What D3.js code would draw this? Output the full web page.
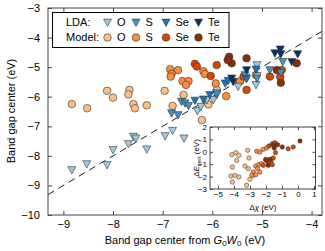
<!DOCTYPE html>
<html><head><meta charset="utf-8">
<script src="https://cdn.jsdelivr.net/npm/d3@7"></script>
<style>
body{margin:0;background:#fff}
text{font-family:"Liberation Sans",Arial,sans-serif;fill:#000}
</style>
</head><body><script>
const species = ["O", "S", "Se", "Te"];
const xTicks = [-9, -8, -7, -6, -5, -4];
const yTicks = [-10, -9, -8, -7, -6, -5, -4, -3];
const insetXTicks = [-5, -4, -3, -2, -1, 0, 1];
const insetYTicks = [-3, -2, -1, 0, 1, 2];

// [G0W0 center, predicted center] in eV
const ldaO = [[-8.83,-8.48],[-8.53,-8.28],[-8.12,-8.31],[-8.00,-7.80],[-7.69,-7.60],[-7.59,-7.35],[-7.54,-7.41],[-7.32,-7.78],[-6.95,-7.33],[-6.80,-7.15],[-6.57,-7.41],[-6.30,-6.48],[-6.23,-6.34],[-6.11,-6.11],[-5.98,-6.11],[-5.91,-5.94],[-5.48,-5.66],[-5.10,-4.93],[-5.10,-5.30],[-5.12,-5.60]];
const ldaS = [[-6.82,-6.56],[-6.69,-6.62],[-6.62,-6.17],[-6.55,-6.22],[-6.48,-6.31],[-5.91,-5.88],[-5.34,-5.27],[-5.10,-5.38],[-4.84,-5.10],[-4.58,-4.82],[-4.62,-5.19]];
const ldaSe = [[-6.35,-6.13],[-6.18,-6.09],[-6.05,-5.94],[-5.74,-5.55],[-5.68,-5.46],[-5.31,-5.40],[-5.12,-5.08]];
const ldaTe = [[-5.61,-5.38],[-5.58,-5.49],[-5.31,-5.10],[-4.74,-4.53],[-4.63,-4.40],[-4.62,-4.56],[-4.40,-4.82],[-4.28,-4.56]];
const modelO = [[-8.83,-6.25],[-8.52,-6.39],[-8.12,-5.80],[-8.00,-6.03],[-7.67,-5.77],[-7.69,-5.92],[-7.59,-6.25],[-7.56,-6.39],[-7.32,-6.29],[-6.96,-5.80],[-6.80,-6.31],[-6.58,-5.94],[-6.21,-6.79],[-6.08,-6.26],[-5.91,-5.77]];
const modelS = [[-6.85,-5.07],[-6.82,-5.23],[-6.84,-5.32],[-6.69,-5.10],[-6.60,-5.47],[-6.48,-5.47],[-6.53,-5.60],[-6.18,-5.14],[-6.15,-5.23],[-5.93,-5.55],[-5.72,-5.98],[-5.44,-5.48],[-5.12,-5.27]];
const modelSe = [[-6.35,-4.89],[-6.31,-4.98],[-5.91,-4.93],[-6.03,-5.30],[-5.37,-5.32],[-5.31,-5.77],[-4.84,-5.32],[-4.60,-5.10],[-4.63,-5.33]];
const modelTe = [[-5.66,-4.65],[-5.61,-4.87],[-5.69,-4.76],[-5.31,-4.70],[-4.70,-5.10],[-4.62,-5.53],[-4.30,-4.87]];

// inset: [delta chi, delta E_cen] in eV
const insetO = [[-4.14,-0.23],[-3.89,-0.07],[-3.69,-0.28],[-3.83,-0.69],[-4.10,-1.23],[-4.19,-1.95],[-3.94,-1.90],[-3.69,-2.03],[-4.10,-2.44],[-3.14,0.12],[-3.06,-0.50],[-3.31,-1.15],[-3.10,-1.36],[-3.21,-2.70],[-3.00,-2.22],[-2.79,-1.90]];
const insetS = [[-2.64,-1.15],[-2.52,-1.36],[-2.79,-1.63],[-2.44,-1.01],[-2.27,-0.96],[-2.58,0.04],[-2.38,-0.02],[-2.17,0.20],[-1.96,0.31],[-2.63,-1.85],[-2.38,-1.63],[-2.89,-1.90]];
const insetSe = [[-2.02,-0.60],[-1.86,-0.88],[-1.69,-0.77],[-1.54,-0.50],[-1.60,-1.04],[-1.81,0.47],[-1.60,0.65],[-1.44,0.73],[-1.40,-0.07],[-0.61,0.25],[-0.29,0.39],[-2.17,-1.09]];
const insetTe = [[-0.98,0.39],[0.13,0.87],[-2.00,-0.69],[-1.75,-0.60],[-1.86,-1.09],[-1.48,0.31],[-1.27,0.57],[-1.54,0.52]];

const ldaColors = ["#9ecae1", "#4292c6", "#2171b5", "#08306b"];
const modelColors = ["#fdbe85", "#fd8d3c", "#d94801", "#8c2d04"];
const frameColor = "#444";
const fmt = d3.format("d");

const W = 325, H = 251;
const svg = d3.select("body").append("svg").attr("width", W).attr("height", H);

const x = d3.scaleLinear().domain([-9.31, -3.79]).range([48, 322]);
const y = d3.scaleLinear().domain([-10, -3]).range([215, 8]);

const tri = s => `M${-s},${-s*0.85}L${s},${-s*0.85}L0,${s}Z`;

function styleAxis(g, size) {
    g.select(".domain").remove();
    g.selectAll("line").attr("stroke", frameColor);
    g.selectAll("text").attr("font-size", size).attr("font-family", '"Liberation Sans",Arial,sans-serif').attr("fill", "#000");
}

// main axes
svg.append("g").attr("transform", `translate(0,${y(-10)})`)
    .call(d3.axisBottom(x).tickValues(xTicks).tickFormat(fmt).tickSizeInner(-4).tickSizeOuter(0).tickPadding(5))
    .call(g => styleAxis(g, 11));
svg.append("g").attr("transform", `translate(0,${y(-3)})`)
    .call(d3.axisTop(x).tickValues(xTicks).tickSizeInner(-4).tickSizeOuter(0).tickFormat(""))
    .call(g => styleAxis(g, 11));
svg.append("g").attr("transform", `translate(${x.range()[0]},0)`)
    .call(d3.axisLeft(y).tickValues(yTicks).tickFormat(fmt).tickSizeInner(-4).tickSizeOuter(0).tickPadding(8))
    .call(g => styleAxis(g, 11));
svg.append("g").attr("transform", `translate(${x.range()[1]},0)`)
    .call(d3.axisRight(y).tickValues(yTicks).tickSizeInner(-4).tickSizeOuter(0).tickFormat(""))
    .call(g => styleAxis(g, 11));

svg.append("clipPath").attr("id", "clip").append("rect")
    .attr("x", 48).attr("y", 8).attr("width", 274).attr("height", 207);

// y = x guide
svg.append("line")
    .attr("clip-path", "url(#clip)")
    .attr("x1", x(-9.31)).attr("y1", y(-9.31))
    .attr("x2", x(-3.79)).attr("y2", y(-3.79))
    .attr("stroke", "#000").attr("stroke-width", 0.9)
    .attr("stroke-dasharray", "7,5");

const modelSeries = [modelO, modelS, modelSe, modelTe];
const ldaSeries = [ldaO, ldaS, ldaSe, ldaTe];

modelSeries.forEach((data, i) => {
    svg.append("g").selectAll("circle").data(data).join("circle")
        .attr("cx", d => x(d[0])).attr("cy", d => y(d[1])).attr("r", 3.8)
        .attr("fill", modelColors[i]).attr("stroke", "#333").attr("stroke-width", 0.6);
});
ldaSeries.forEach((data, i) => {
    svg.append("g").selectAll("path").data(data).join("path")
        .attr("d", tri(4))
        .attr("transform", d => `translate(${x(d[0])},${y(d[1])})`)
        .attr("fill", ldaColors[i]).attr("stroke", "#333").attr("stroke-width", 0.6);
});

svg.append("rect").attr("x", 48).attr("y", 8).attr("width", 274).attr("height", 207)
    .attr("fill", "none").attr("stroke", frameColor).attr("stroke-width", 1);

// axis titles
svg.append("text").attr("x", 185).attr("y", 244).attr("text-anchor", "middle").attr("font-size", 11)
    .html('Band gap center from <tspan font-style="italic">G</tspan><tspan font-size="8" dy="2">0</tspan><tspan font-style="italic" dy="-2">W</tspan><tspan font-size="8" dy="2">0</tspan><tspan dy="-2"> (eV)</tspan>');
svg.append("text").attr("transform", "translate(15,111) rotate(-90)").attr("text-anchor", "middle")
    .attr("font-size", 11).text("Band gap center (eV)");

// legend
const leg = svg.append("g");
leg.append("rect").attr("x", 52.5).attr("y", 12.5).attr("width", 176.5).attr("height", 35)
    .attr("fill", "#fff").attr("stroke", "#000").attr("stroke-width", 1);
const legX = [107.5, 136, 166, 198.5];
[["LDA:", 22.5, "lda"], ["Model:", 37.5, "model"]].forEach(([lab, ly, kind]) => {
    leg.append("text").attr("x", 66).attr("y", ly).attr("dy", "0.36em").attr("font-size", 11).text(lab);
    species.forEach((s, i) => {
        if (kind === "lda") {
            leg.append("path").attr("d", tri(4)).attr("transform", `translate(${legX[i]},${ly})`)
                .attr("fill", ldaColors[i]).attr("stroke", "#333").attr("stroke-width", 0.6);
        } else {
            leg.append("circle").attr("cx", legX[i]).attr("cy", ly).attr("r", 3.8)
                .attr("fill", modelColors[i]).attr("stroke", "#333").attr("stroke-width", 0.6);
        }
        leg.append("text").attr("x", legX[i] + 9.5).attr("y", ly).attr("dy", "0.36em")
            .attr("font-size", 11).text(s);
    });
});

// inset
const xi = d3.scaleLinear().domain([-5.5, 1.1]).range([210, 315.5]);
const yi = d3.scaleLinear().domain([-3, 2]).range([189, 127]);
const ins = svg.append("g");
ins.append("rect").attr("x", 210).attr("y", 127).attr("width", 105.5).attr("height", 62).attr("fill", "#fff");
ins.append("g").attr("transform", "translate(0,189)")
    .call(d3.axisBottom(xi).tickValues(insetXTicks).tickFormat(fmt).tickSizeInner(-3).tickSizeOuter(0).tickPadding(2.5))
    .call(g => styleAxis(g, 8));
ins.append("g").attr("transform", "translate(0,127)")
    .call(d3.axisTop(xi).tickValues(insetXTicks).tickSizeInner(-3).tickSizeOuter(0).tickFormat(""))
    .call(g => styleAxis(g, 8));
ins.append("g").attr("transform", "translate(210,0)")
    .call(d3.axisLeft(yi).tickValues(insetYTicks).tickFormat(fmt).tickSizeInner(-3).tickSizeOuter(0).tickPadding(3))
    .call(g => styleAxis(g, 8));
ins.append("g").attr("transform", "translate(315.5,0)")
    .call(d3.axisRight(yi).tickValues(insetYTicks).tickSizeInner(-3).tickSizeOuter(0).tickFormat(""))
    .call(g => styleAxis(g, 8));

[insetO, insetS, insetSe, insetTe].forEach((data, i) => {
    ins.append("g").selectAll("circle").data(data).join("circle")
        .attr("cx", d => xi(d[0])).attr("cy", d => yi(d[1])).attr("r", 2.2)
        .attr("fill", modelColors[i]).attr("stroke", "#333").attr("stroke-width", 0.5);
});
ins.append("rect").attr("x", 210).attr("y", 127).attr("width", 105.5).attr("height", 62)
    .attr("fill", "none").attr("stroke", frameColor).attr("stroke-width", 1);

ins.append("text").attr("x", 263).attr("y", 209.5).attr("text-anchor", "middle").attr("font-size", 8)
    .html('Δ<tspan font-style="italic">χ</tspan> (eV)');
ins.append("text").attr("transform", "translate(199,158) rotate(-90)").attr("text-anchor", "middle")
    .attr("font-size", 8)
    .html('Δ<tspan font-style="italic">E</tspan><tspan font-size="6" dy="1.5">cen</tspan><tspan dy="-1.5"> (eV)</tspan>');
</script></body></html>
